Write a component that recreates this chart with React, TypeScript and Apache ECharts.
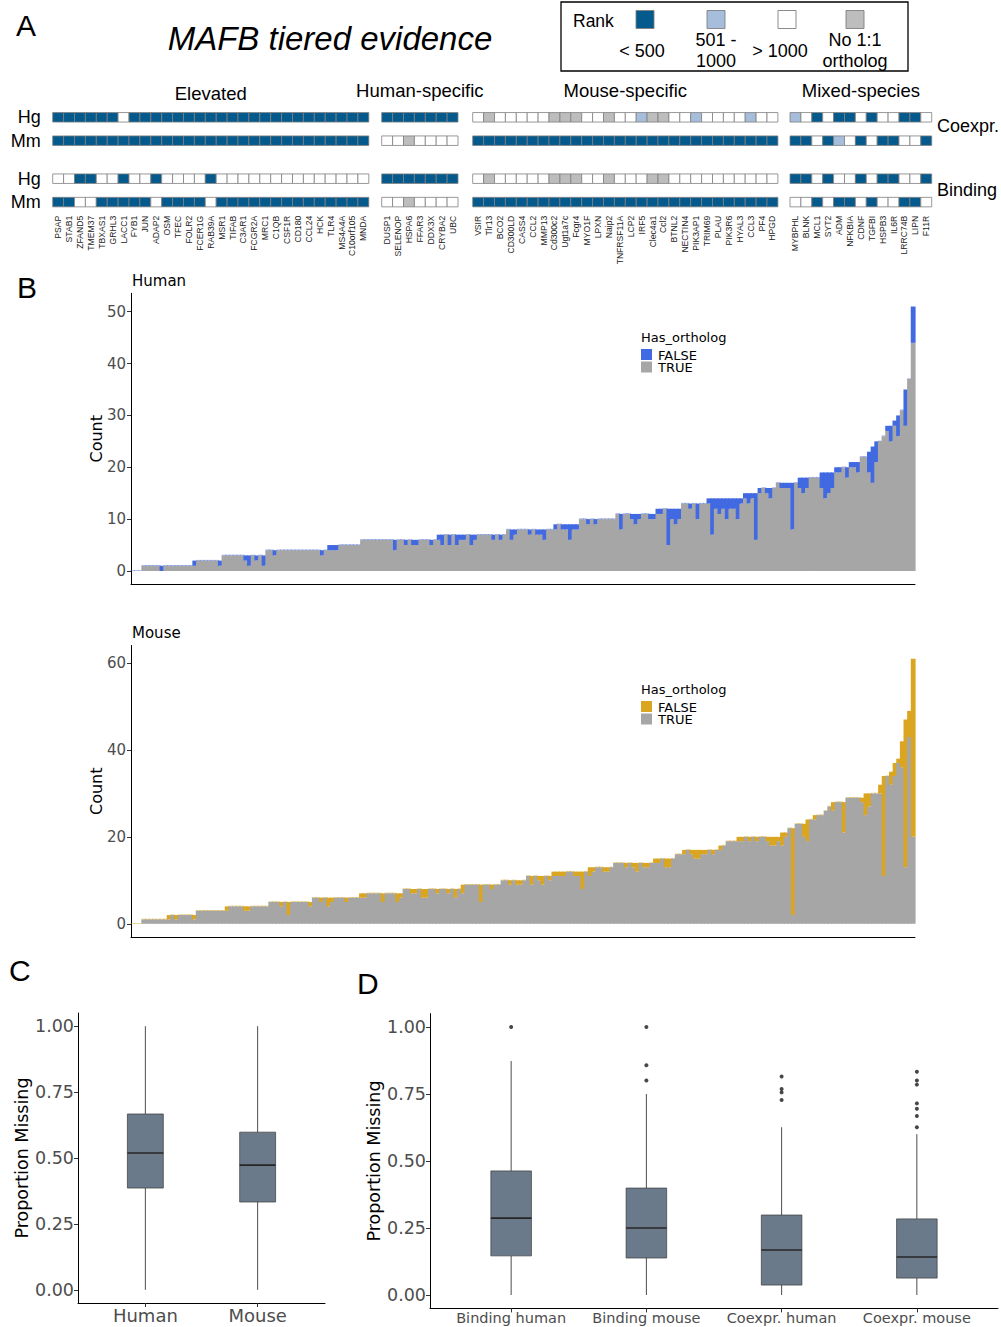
import React, { useEffect, useRef } from 'react';
import * as echarts from 'echarts';

// ---------------- Panel A data ----------------
// rank codes: 1 = "< 500", 2 = "501 - 1000", 3 = "> 1000", 0 = "No 1:1 ortholog"
const elevatedGenes = ['PSAP', 'STAB1', 'ZFAND5', 'TMEM37', 'TBXAS1', 'GRHL3', 'LACC1', 'FYB1', 'JUN', 'ADAP2', 'OSM', 'TFEC', 'FOLR2', 'FCER1G', 'RAB39A', 'MSR1', 'TIFAB', 'C3AR1', 'FCGR2A', 'MRC1', 'C1QB', 'CSF1R', 'CD180', 'CCL24', 'HCK', 'TLR4', 'MS4A4A', 'C10orf105', 'MNDA'];
const elevatedHgCoexpr = [1, 1, 1, 1, 1, 1, 3, 1, 1, 1, 1, 1, 1, 1, 1, 1, 1, 1, 1, 1, 1, 1, 1, 1, 1, 1, 1, 1, 1];
const elevatedMmCoexpr = [1, 1, 1, 1, 1, 1, 1, 1, 1, 1, 1, 1, 1, 1, 1, 1, 1, 1, 1, 1, 1, 1, 1, 1, 1, 1, 1, 1, 1];
const elevatedHgBinding = [3, 3, 1, 1, 3, 3, 1, 3, 3, 1, 3, 3, 3, 3, 1, 3, 3, 3, 3, 3, 3, 3, 3, 3, 3, 3, 3, 3, 3];
const elevatedMmBinding = [1, 1, 3, 3, 1, 1, 1, 1, 1, 3, 1, 1, 1, 1, 3, 1, 1, 1, 1, 1, 1, 1, 1, 1, 1, 1, 1, 1, 1];

const humanSpecificGenes = ['DUSP1', 'SELENOP', 'HSPA6', 'FFAR3', 'DDX3X', 'CRYBA2', 'UBC'];
const humanSpecificHgCoexpr = [1, 1, 1, 1, 1, 1, 1];
const humanSpecificMmCoexpr = [3, 3, 0, 3, 3, 3, 3];
const humanSpecificHgBinding = [1, 1, 1, 1, 1, 1, 1];
const humanSpecificMmBinding = [3, 3, 0, 3, 3, 3, 3];

const mouseSpecificGenes = ['VSIR', 'Tlr13', 'BCO2', 'CD300LD', 'CASS4', 'CCL2', 'MMP13', 'Cd300c2', 'Ugt1a7c', 'Fcgr4', 'MYO1F', 'LPXN', 'Naip2', 'TNFRSF11A', 'LCP2', 'IRF5', 'Clec4a1', 'Ccl2', 'BTNL2', 'NECTIN4', 'PIK3AP1', 'TRIM69', 'PLAU', 'PIK3R6', 'HYAL3', 'CCL3', 'PF4', 'HPGD'];
const mouseSpecificHgCoexpr = [3, 0, 3, 3, 3, 3, 3, 0, 0, 0, 3, 3, 0, 3, 3, 2, 0, 0, 3, 3, 2, 3, 3, 3, 3, 2, 3, 3];
const mouseSpecificMmCoexpr = [1, 1, 1, 1, 1, 1, 1, 1, 1, 1, 1, 1, 1, 1, 1, 1, 1, 1, 1, 1, 1, 1, 1, 1, 1, 1, 1, 1];
const mouseSpecificHgBinding = [3, 0, 3, 3, 3, 3, 3, 0, 0, 0, 3, 3, 0, 3, 3, 3, 0, 0, 3, 3, 3, 3, 3, 3, 3, 3, 3, 3];
const mouseSpecificMmBinding = [1, 1, 1, 1, 1, 1, 1, 1, 1, 1, 1, 1, 1, 1, 1, 1, 1, 1, 1, 1, 1, 1, 1, 1, 1, 1, 1, 1];

const mixedSpeciesGenes = ['MYBPHL', 'BLNK', 'MCL1', 'SYT2', 'ADM', 'NFKBIA', 'CDNF', 'TGFBI', 'HSPB3', 'IL6R', 'LRRC74B', 'LIPN', 'F11R'];
const mixedSpeciesHgCoexpr = [2, 3, 1, 3, 1, 1, 3, 1, 3, 3, 1, 1, 3];
const mixedSpeciesMmCoexpr = [1, 1, 3, 1, 2, 3, 1, 3, 1, 1, 3, 3, 1];
const mixedSpeciesHgBinding = [1, 1, 3, 1, 3, 3, 1, 3, 1, 1, 3, 3, 1];
const mixedSpeciesMmBinding = [3, 3, 1, 3, 1, 1, 3, 1, 3, 3, 1, 1, 3];

const rowLabels = ['Hg', 'Mm'];
const rankLegendCodes = [1, 2, 3, 0];
const rankLegendLabels = ['< 500', '501 -\n1000', '> 1000', 'No 1:1\northolog'];

// ---------------- Panel B data ----------------
const humanTotal = [
  0, 0, 0,
  1, 1, 1, 1, 1, 1, 1, 1, 1, 1, 1, 1, 1, 1,
  2, 2, 2, 2, 2, 2, 2, 2,
  3, 3, 3, 3, 3, 3, 3, 3, 3, 3, 3, 3,
  4, 4, 4, 4, 4, 4, 4, 4, 4, 4, 4, 4, 4, 4, 4, 4, 4,
  5, 5, 5, 5, 5, 5, 5, 5, 5,
  6, 6, 6, 6, 6, 6, 6, 6, 6, 6, 6, 6, 6, 6, 6, 6, 6, 6, 6, 6, 6,
  7, 7, 7, 7, 7, 7, 7, 7, 7, 7, 7, 7, 7, 7, 7, 7, 7, 7, 7,
  8, 8, 8, 8, 8, 8, 8, 8, 8, 8, 8, 8, 8,
  9, 9, 9, 9, 9, 9, 9,
  10, 10, 10, 10, 10, 10, 10, 10, 10, 10,
  11, 11, 11, 11, 11, 11, 11, 11, 11, 11, 11,
  12, 12, 12, 12, 12, 12, 12,
  13, 13, 13, 13, 13, 13, 13,
  14, 14, 14, 14, 14, 14, 14, 14, 14, 14,
  15, 15, 15, 15,
  16, 16, 16, 16, 16,
  17, 17, 17, 17, 17, 17,
  18, 18, 18, 18, 18, 18,
  19, 19, 19, 19,
  20, 20, 20, 20,
  21, 21, 21,
  22, 22, 23, 24, 25, 25, 26, 28, 28, 29, 30, 31, 35, 37, 51,
];
const humanFalse = [
  0, 0, 0,
  0, 0, 0, 0, 0, 1, 0, 0, 0, 0, 0, 0, 0, 0,
  1, 0, 0, 0, 0, 0, 0, 1,
  0, 0, 0, 0, 0, 0, 1, 2, 0, 1, 0, 2,
  0, 0, 1, 0, 0, 0, 0, 0, 0, 0, 0, 0, 0, 0, 0, 1, 0,
  1, 1, 1, 0, 0, 0, 0, 0, 0,
  0, 0, 0, 0, 0, 0, 0, 0, 0, 2, 0, 0, 1, 0, 1, 1, 0, 0, 0, 1, 0,
  1, 2, 0, 2, 0, 2, 1, 1, 0, 2, 1, 0, 0, 0, 0, 1, 0, 1, 0,
  0, 2, 1, 0, 0, 0, 1, 0, 1, 1, 2, 0, 0,
  1, 0, 1, 1, 3, 1, 1,
  0, 0, 1, 0, 1, 0, 0, 0, 0, 0,
  0, 3, 0, 0, 1, 2, 1, 0, 0, 1, 1,
  1, 1, 0, 7, 2, 3, 2,
  0, 0, 1, 0, 3, 0, 0,
  1, 7, 2, 3, 2, 4, 2, 2, 4, 1,
  1, 2, 1, 9,
  1, 0, 1, 2, 0,
  0, 1, 1, 1, 9, 0,
  2, 3, 2, 0, 0, 0,
  3, 5, 4, 3,
  1, 1, 0, 2,
  1, 1, 2,
  0, 0, 4, 7, 4, 0, 0, 1, 3, 1, 4, 0, 7, 0, 7,
];
const mouseTotal = [
  0, 0, 0,
  1, 1, 1, 1, 1, 1, 1,
  2, 2, 2, 2, 2, 2, 2, 2,
  3, 3, 3, 3, 3, 3, 3, 3,
  4, 4, 4, 4, 4, 4, 4, 4, 4, 4, 4, 4,
  5, 5, 5, 5, 5, 5, 5, 5, 5, 5, 5, 5,
  6, 6, 6, 6, 6, 6, 6, 6, 6, 6, 6, 6, 6,
  7, 7, 7, 7, 7, 7, 7, 7, 7, 7, 7, 7,
  8, 8, 8, 8, 8, 8, 8, 8, 8, 8, 8, 8, 8, 8, 8, 8,
  9, 9, 9, 9, 9, 9, 9, 9, 9, 9, 9,
  10, 10, 10, 10, 10, 10, 10,
  11, 11, 11, 11, 11, 11, 11,
  12, 12, 12, 12, 12, 12, 12, 12, 12, 12,
  13, 13, 13, 13, 13, 13, 13,
  14, 14, 14, 14, 14, 14, 14, 14, 14, 14, 14,
  15, 15, 15, 15, 15, 15,
  16, 16,
  17, 17, 17, 17, 17, 17, 17, 17, 17, 17,
  18, 18,
  19, 19, 19,
  20, 20, 20, 20, 20, 20, 20, 20, 20, 20, 20, 20,
  21, 21,
  22, 22,
  23, 23, 23,
  24, 24,
  25, 25, 25,
  26, 27,
  28, 28, 28, 28,
  29, 29, 29, 29, 29,
  30, 30, 30, 30,
  32, 34, 34, 35, 37, 38, 42, 47, 49, 61,
];
const mouseFalse = [
  0, 0, 0,
  0, 0, 0, 0, 0, 0, 0,
  1, 0, 1, 0, 0, 0, 0, 1,
  0, 0, 0, 0, 0, 0, 0, 0,
  1, 0, 0, 0, 0, 1, 1, 0, 0, 0, 0, 0,
  0, 0, 0, 1, 0, 3, 0, 0, 0, 0, 0, 1,
  0, 0, 1, 0, 2, 1, 0, 0, 0, 1, 0, 0, 0,
  1, 1, 0, 0, 0, 0, 2, 0, 0, 0, 2, 1,
  0, 0, 1, 1, 0, 2, 2, 0, 0, 1, 0, 0, 1, 0, 2, 0,
  2, 0, 0, 0, 0, 4, 0, 0, 1, 0, 0,
  0, 0, 1, 0, 1, 1, 0,
  0, 2, 0, 1, 2, 0, 1,
  1, 1, 1, 1, 0, 0, 1, 1, 4, 0,
  2, 1, 0, 0, 1, 1, 0,
  0, 0, 0, 1, 0, 1, 2, 0, 1, 1, 0,
  1, 1, 0, 2, 2, 0,
  0, 0,
  1, 0, 1, 2, 2, 1, 1, 0, 1, 0,
  1, 0,
  0, 0, 0,
  1, 1, 0, 1, 0, 1, 0, 0, 1, 2, 2, 1,
  3, 1,
  0, 20,
  0, 0, 3,
  5, 0,
  1, 0, 0,
  0, 0,
  2, 0, 0, 7,
  0, 0, 0, 0, 1,
  5, 3, 0, 0,
  2, 23, 0, 3, 3, 1, 6, 34, 6, 41,
];
const humanYTicks = [0, 10, 20, 30, 40, 50];
const mouseYTicks = [0, 20, 40, 60];
const orthologLegend = ['FALSE', 'TRUE'];

// ---------------- Panels C / D data ----------------
const propTicks = [0, 0.25, 0.5, 0.75, 1];
const cCategories = ['Human', 'Mouse'];
// [lower whisker, Q1, median, Q3, upper whisker]
const cStats = [
  [0, 0.386, 0.519, 0.667, 1.0],
  [0, 0.333, 0.473, 0.598, 1.0],
];
const dCategories = ['Binding human', 'Binding mouse', 'Coexpr. human', 'Coexpr. mouse'];
const dStats = [
  [0, 0.146, 0.287, 0.463, 0.873],
  [0, 0.138, 0.25, 0.399, 0.75],
  [0, 0.037, 0.168, 0.2985, 0.626],
  [0, 0.063, 0.142, 0.284, 0.6],
];
const dOutliers = [
  [1.0],
  [1.0, 0.857, 0.8],
  [0.815, 0.769, 0.756, 0.728],
  [0.833, 0.8, 0.785, 0.715, 0.695, 0.668, 0.626],
];

// ---------------- styling ----------------
const FA = '"Liberation Sans", Arial, sans-serif';
const FG = '"DejaVu Sans", sans-serif';
const rankColors: Record<number, string> = { 1: '#045a8d', 2: '#a6bddb', 3: '#ffffff', 0: '#bdbdbd' };
const GRAY = '#a6a6a6';
const BLUE = '#4169e1';
const GOLD = '#daa520';
const TICKCOL = '#4d4d4d';

function txt(text: string, x: number, y: number, font: string, align = 'left', extra: any = {}) {
  return {
    type: 'text',
    x,
    y,
    silent: true,
    ...extra,
    style: {
      text,
      font,
      fill: extra.fill || '#000',
      textAlign: align,
      textVerticalAlign: 'middle',
      align,
      verticalAlign: 'middle',
      lineHeight: extra.lineHeight,
    },
  };
}

function buildOption() {
  const groups = [
    { title: 'Elevated', genes: elevatedGenes, rows: [elevatedHgCoexpr, elevatedMmCoexpr, elevatedHgBinding, elevatedMmBinding], left: 52.7, titleY: 93 },
    { title: 'Human-specific', genes: humanSpecificGenes, rows: [humanSpecificHgCoexpr, humanSpecificMmCoexpr, humanSpecificHgBinding, humanSpecificMmBinding], left: 381.7, titleY: 90 },
    { title: 'Mouse-specific', genes: mouseSpecificGenes, rows: [mouseSpecificHgCoexpr, mouseSpecificMmCoexpr, mouseSpecificHgBinding, mouseSpecificMmBinding], left: 472.7, titleY: 90 },
    { title: 'Mixed-species', genes: mixedSpeciesGenes, rows: [mixedSpeciesHgCoexpr, mixedSpeciesMmCoexpr, mixedSpeciesHgBinding, mixedSpeciesMmBinding], left: 790, titleY: 90 },
  ];
  const cellW = 10.9;
  const cellH = 9.5;

  const grid: any[] = [];
  const xAxis: any[] = [];
  const yAxis: any[] = [];
  const series: any[] = [];
  const elements: any[] = [];

  const cellRender = (params: any, api: any) => {
    const p = api.coord([api.value(0), api.value(1)]);
    const w = api.size([1, 0])[0];
    return {
      type: 'rect',
      shape: { x: p[0] - w / 2, y: p[1] - cellH / 2, width: w, height: cellH },
      style: { fill: rankColors[api.value(2)], stroke: '#7f7f7f', lineWidth: 0.8 },
    };
  };

  groups.forEach((g, gi) => {
    const width = g.genes.length * cellW;
    [0, 1].forEach((block) => {
      const idx = gi * 2 + block;
      grid.push({ left: g.left, top: block === 0 ? 105.6 : 167, width, height: 46.8 });
      xAxis.push({
        gridIndex: idx,
        type: 'category',
        data: g.genes,
        show: block === 1,
        axisLine: { show: false },
        axisTick: { show: false },
        axisLabel: { show: block === 1, rotate: 90, interval: 0, fontSize: 8.6, fontFamily: FA, color: '#222', margin: 2 },
      });
      yAxis.push({
        gridIndex: idx,
        type: 'category',
        data: rowLabels,
        inverse: true,
        axisLine: { show: false },
        axisTick: { show: false },
        axisLabel: { show: gi === 0, interval: 0, fontSize: 18, fontFamily: FA, color: '#000', margin: 12 },
      });
      const hg = g.rows[block * 2];
      const mm = g.rows[block * 2 + 1];
      const data: number[][] = [];
      g.genes.forEach((_, i) => {
        data.push([i, 0, hg[i]]);
        data.push([i, 1, mm[i]]);
      });
      series.push({
        type: 'custom',
        xAxisIndex: idx,
        yAxisIndex: idx,
        renderItem: cellRender,
        encode: { x: 0, y: 1 },
        data,
        silent: true,
      });
    });
    elements.push(txt(g.title, g.left + width / 2, g.titleY, `18.5px ${FA}`, 'center'));
  });

  // Panel A texts
  elements.push(txt('A', 16, 25, `30px ${FA}`));
  elements.push(txt('MAFB tiered evidence', 330, 38, `italic 33px ${FA}`, 'center'));
  elements.push(txt('Coexpr.', 937, 126, `18px ${FA}`));
  elements.push(txt('Binding', 937, 190, `18px ${FA}`));
  elements.push({ type: 'rect', shape: { x: 561, y: 2, width: 347, height: 69 }, style: { fill: 'none', stroke: '#000', lineWidth: 1.3 }, silent: true });
  elements.push(txt('Rank', 573, 21, `17.5px ${FA}`));
  const sqX = [636, 707, 778, 846];
  const labX = [642, 716, 780, 855];
  rankLegendCodes.forEach((c, i) => {
    elements.push({ type: 'rect', shape: { x: sqX[i], y: 10.5, width: 18, height: 18 }, style: { fill: rankColors[c], stroke: '#7f7f7f', lineWidth: 0.9 }, silent: true });
    elements.push(txt(rankLegendLabels[i], labX[i], 50.5, `18px ${FA}`, 'center', { lineHeight: 20.5 }));
  });

  // Panel B: stacked bars drawn through the axes (TRUE at bottom, FALSE on top)
  const makeBarRender = (topColor: string) => (params: any, api: any) => {
    const i = api.value(0);
    const tr = api.value(1);
    const tot = api.value(2);
    const base = api.coord([i, 0]);
    const pTrue = api.coord([i, tr]);
    const pTot = api.coord([i, tot]);
    const w = api.size([1, 0])[0] + 1.2;
    const x = base[0] - w / 2;
    const topH = Math.max(pTrue[1] - pTot[1], 0.7);
    return {
      type: 'group',
      children: [
        { type: 'rect', shape: { x, y: pTrue[1], width: w, height: base[1] - pTrue[1] }, style: { fill: GRAY } },
        { type: 'rect', shape: { x, y: pTrue[1] - topH, width: w, height: topH }, style: { fill: topColor, opacity: pTrue[1] - pTot[1] > 0.5 ? 1 : 0.55 } },
      ],
    };
  };

  const barPanels = [
    { total: humanTotal, fals: humanFalse, ticks: humanYTicks, color: BLUE, top: 293.3, bottom: 584.2, min: -2.55, max: 53.55, title: 'Human', titleY: 281, legendY: 337 },
    { total: mouseTotal, fals: mouseFalse, ticks: mouseYTicks, color: GOLD, top: 645.5, bottom: 937, min: -3.05, max: 64.05, title: 'Mouse', titleY: 633, legendY: 689 },
  ];
  barPanels.forEach((bp, k) => {
    const idx = 8 + k;
    grid.push({ left: 131, width: 784, top: bp.top, height: bp.bottom - bp.top });
    xAxis.push({
      gridIndex: idx,
      type: 'category',
      data: bp.total.map((_, i) => String(i + 1)),
      boundaryGap: true,
      axisLine: { show: true, onZero: false, lineStyle: { color: '#000', width: 1 } },
      axisTick: { show: false },
      axisLabel: { show: false },
    });
    yAxis.push({
      gridIndex: idx,
      type: 'value',
      min: bp.min,
      max: bp.max,
      splitLine: { show: false },
      axisLine: { show: true, onZero: false, lineStyle: { color: '#000', width: 1 } },
      axisTick: { show: true, length: 4, lineStyle: { color: '#333' }, customValues: bp.ticks },
      axisLabel: { customValues: bp.ticks, fontSize: 15, fontFamily: FG, color: TICKCOL, margin: 5 },
    });
    series.push({
      type: 'custom',
      xAxisIndex: idx,
      yAxisIndex: idx,
      renderItem: makeBarRender(bp.color),
      encode: { x: 0, y: [1, 2] },
      data: bp.total.map((t, i) => [i, t - bp.fals[i], t]),
      silent: true,
    });
    elements.push(txt(bp.title, 132, bp.titleY, `15px ${FG}`));
    elements.push(txt('Count', 96, (bp.top + bp.bottom) / 2, `16px ${FG}`, 'center', { rotation: Math.PI / 2 }));
    elements.push(txt('Has_ortholog', 641, bp.legendY, `13px ${FG}`));
    elements.push({ type: 'rect', shape: { x: 641, y: bp.legendY + 12, width: 11, height: 11 }, style: { fill: bp.color }, silent: true });
    elements.push({ type: 'rect', shape: { x: 641, y: bp.legendY + 24.5, width: 11, height: 11 }, style: { fill: GRAY }, silent: true });
    elements.push(txt(orthologLegend[0], 658, bp.legendY + 18, `13px ${FG}`));
    elements.push(txt(orthologLegend[1], 658, bp.legendY + 30.5, `13px ${FG}`));
  });
  elements.push(txt('B', 17, 287, `30px ${FA}`));

  // Panels C / D
  const boxFill = '#6b7a8a';
  const makeBoxRender = (frac: number) => (params: any, api: any) => {
    const x = api.value(0);
    const lo = api.coord([x, api.value(1)]);
    const q1 = api.coord([x, api.value(2)]);
    const med = api.coord([x, api.value(3)]);
    const q3 = api.coord([x, api.value(4)]);
    const hi = api.coord([x, api.value(5)]);
    const bw = api.size([1, 0])[0] * frac;
    const ws = { stroke: '#4d4d4d', lineWidth: 1 };
    return {
      type: 'group',
      children: [
        { type: 'line', shape: { x1: lo[0], y1: lo[1], x2: q1[0], y2: q1[1] }, style: ws },
        { type: 'line', shape: { x1: q3[0], y1: q3[1], x2: hi[0], y2: hi[1] }, style: ws },
        { type: 'rect', shape: { x: q1[0] - bw / 2, y: q3[1], width: bw, height: q1[1] - q3[1] }, style: { fill: boxFill, stroke: '#3a3a3a', lineWidth: 0.7 } },
        { type: 'line', shape: { x1: med[0] - bw / 2, y1: med[1], x2: med[0] + bw / 2, y2: med[1] }, style: { stroke: '#262626', lineWidth: 1.6 } },
      ],
    };
  };

  const boxPanels = [
    { cats: cCategories, stats: cStats, left: 78, width: 247, top: 1013, height: 290, frac: 0.32, labelSize: 18, labelMargin: 3 },
    { cats: dCategories, stats: dStats, left: 430, width: 568, top: 1013.6, height: 294.8, frac: 0.3, labelSize: 14.5, labelMargin: 2 },
  ];
  boxPanels.forEach((p, k) => {
    const idx = 10 + k;
    const catPos = p.cats.map((_, i) => i + 1);
    grid.push({ left: p.left, width: p.width, top: p.top, height: p.height });
    xAxis.push({
      gridIndex: idx,
      type: 'value',
      min: 0.4,
      max: p.cats.length + 0.6,
      splitLine: { show: false },
      axisLine: { show: true, onZero: false, lineStyle: { color: '#000', width: 1 } },
      axisTick: { show: true, length: 4, lineStyle: { color: '#333' }, customValues: catPos },
      axisLabel: {
        customValues: catPos,
        formatter: (v: number) => p.cats[Math.round(v) - 1] || '',
        fontSize: p.labelSize,
        fontFamily: FG,
        color: TICKCOL,
        margin: p.labelMargin,
      },
    });
    yAxis.push({
      gridIndex: idx,
      type: 'value',
      min: -0.05,
      max: 1.05,
      splitLine: { show: false },
      axisLine: { show: true, onZero: false, lineStyle: { color: '#000', width: 1 } },
      axisTick: { show: true, length: 4, lineStyle: { color: '#333' }, customValues: propTicks },
      axisLabel: { customValues: propTicks, formatter: (v: number) => v.toFixed(2), fontSize: 17.5, fontFamily: FG, color: TICKCOL, margin: 4 },
    });
    series.push({
      type: 'custom',
      xAxisIndex: idx,
      yAxisIndex: idx,
      renderItem: makeBoxRender(p.frac),
      encode: { x: 0, y: [1, 2, 3, 4, 5] },
      data: p.stats.map((s, i) => [i + 1, ...s]),
      silent: true,
    });
    elements.push(txt('Proportion Missing', k === 0 ? 22 : 374, p.top + p.height / 2, `17.5px ${FG}`, 'center', { rotation: Math.PI / 2 }));
  });
  const outlierData: number[][] = [];
  dOutliers.forEach((arr, i) => arr.forEach((v) => outlierData.push([i + 1, v])));
  series.push({
    type: 'scatter',
    xAxisIndex: 11,
    yAxisIndex: 11,
    data: outlierData,
    symbolSize: 4,
    itemStyle: { color: '#1a1a1a' },
    silent: true,
  });
  elements.push(txt('C', 9, 970, `30px ${FA}`));
  elements.push(txt('D', 357, 983, `30px ${FA}`));

  return {
    animation: false,
    backgroundColor: '#ffffff',
    grid,
    xAxis,
    yAxis,
    series,
    graphic: { elements },
  };
}

export default function App() {
  const ref = useRef<HTMLDivElement>(null);
  useEffect(() => {
    document.body.style.margin = '0';
    const chart = echarts.init(ref.current as HTMLDivElement, null, { renderer: 'svg' });
    chart.setOption(buildOption() as any);
    return () => {
      chart.dispose();
    };
  }, []);
  return <div ref={ref} style={{ width: 1001, height: 1327 }} />;
}
